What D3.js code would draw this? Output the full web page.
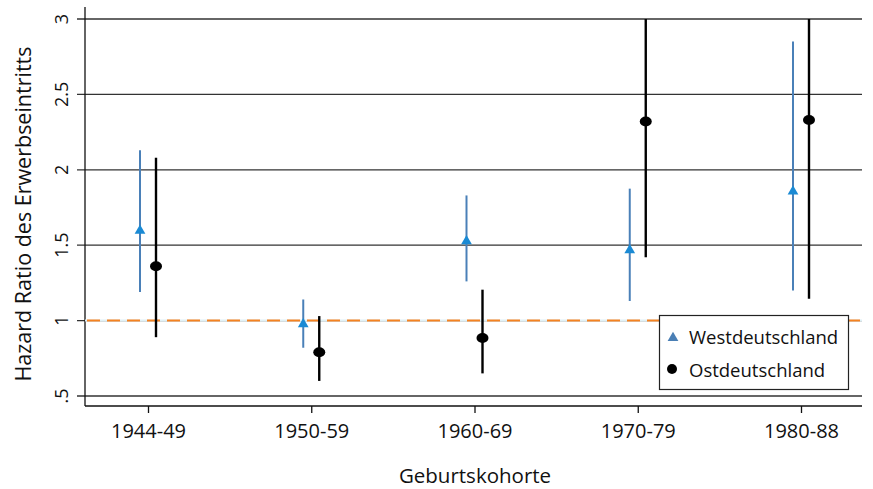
<!DOCTYPE html>
<html>
<head>
<meta charset="utf-8">
<script src="https://cdn.jsdelivr.net/npm/d3@7"></script>
<style>
  body { margin: 0; background: #fff; }
  svg text { font-family: "Open Sans", sans-serif; fill: #111; }
</style>
</head>
<body>
<div id="grafico"></div>
<script>
/*--- datos ---*/
let kohorten = ["1944-49", "1950-59", "1960-69", "1970-79", "1980-88"]
let y_ticks = [0.5, 1, 1.5, 2, 2.5, 3]
let y_labels = [".5", "1", "1.5", "2", "2.5", "3"]

let west_hr   = [1.59, 0.97, 1.52, 1.46, 1.85]
let west_low  = [1.19, 0.82, 1.26, 1.13, 1.20]
let west_high = [2.13, 1.14, 1.83, 1.875, 2.85]

let ost_hr   = [1.36, 0.79, 0.885, 2.32, 2.33]
let ost_low  = [0.89, 0.60, 0.65, 1.42, 1.145]
let ost_high = [2.08, 1.03, 1.205, 3.0, 3.0]

/*--- variables tecnicas ---*/
let width = 873
let height = 489

let svg = d3.select("#grafico").append("svg")
    .attr("width", width).attr("height", height)

let x = d3.scalePoint()
    .domain(kohorten)
    .range([148, 801])

let y = d3.scaleLinear()
    .domain([0.5, 3])
    .range([396, 19])

let xIzq = 85, xDer = 862, yAbajo = 406, yArriba = 7

// lineas de la grilla (con tick a la izquierda)
svg.append("g").selectAll("line")
    .data(y_ticks)
    .enter().append("line")
    .attr("x1", xIzq - 8).attr("x2", xDer)
    .attr("y1", d => y(d)).attr("y2", d => y(d))
    .style("stroke", "#333").style("stroke-width", 1.3)

// etiquetas del eje y, rotadas
svg.append("g").selectAll("text")
    .data(y_ticks)
    .enter().append("text")
    .attr("transform", d => "translate(68," + y(d) + ") rotate(-90)")
    .attr("text-anchor", "middle")
    .style("font-size", "18px")
    .text((d, i) => y_labels[i])

// ejes
svg.append("line")
    .attr("x1", xIzq).attr("x2", xIzq).attr("y1", yArriba).attr("y2", yAbajo)
    .style("stroke", "#111").style("stroke-width", 1.3)
svg.append("line")
    .attr("x1", xIzq).attr("x2", xDer).attr("y1", yAbajo).attr("y2", yAbajo)
    .style("stroke", "#111").style("stroke-width", 1.3)

let ejeX = svg.append("g")
    .attr("transform", "translate(0," + yAbajo + ")")
    .call(d3.axisBottom(x).tickSize(7).tickSizeOuter(0))
ejeX.select(".domain").remove()
ejeX.selectAll("line").style("stroke", "#111").style("stroke-width", 1.3)
ejeX.selectAll("text")
    .attr("y", 32).attr("dy", null)
    .style("font-size", "20px")
    .style("font-family", "'Open Sans', sans-serif")
    .style("fill", "#111")

// linea de referencia en 1
svg.append("line")
    .attr("x1", xIzq).attr("x2", xDer).attr("y1", y(1)).attr("y2", y(1))
    .style("stroke", "#dff0f5").style("stroke-width", 2)
svg.append("line")
    .attr("x1", xIzq + 2).attr("x2", xDer).attr("y1", y(1)).attr("y2", y(1))
    .style("stroke", "#f58220").style("stroke-width", 2)
    .style("stroke-dasharray", "13,7")

// intervalos de confianza
let w = kohorten.map((k, i) => ({k: k, hr: west_hr[i], lo: west_low[i], hi: west_high[i]}))
let o = kohorten.map((k, i) => ({k: k, hr: ost_hr[i], lo: ost_low[i], hi: ost_high[i]}))

svg.append("g").selectAll("line")
    .data(w)
    .enter().append("line")
    .attr("x1", d => x(d.k) - 8).attr("x2", d => x(d.k) - 8)
    .attr("y1", d => y(d.lo)).attr("y2", d => y(d.hi))
    .style("stroke", "#4a80b8").style("stroke-width", 2)

svg.append("g").selectAll("line")
    .data(o)
    .enter().append("line")
    .attr("x1", d => x(d.k) + 8).attr("x2", d => x(d.k) + 8)
    .attr("y1", d => y(d.lo)).attr("y2", d => y(d.hi))
    .style("stroke", "#000").style("stroke-width", 2.4)

// marcadores
let tri = d3.symbol().type(d3.symbolTriangle).size(50)
svg.append("g").selectAll("path")
    .data(w)
    .enter().append("path")
    .attr("d", tri)
    .attr("transform", d => "translate(" + (x(d.k) - 8) + "," + (y(d.hr) - 1) + ")")
    .style("fill", "#1a8ad4")

svg.append("g").selectAll("ellipse")
    .data(o)
    .enter().append("ellipse")
    .attr("cx", d => x(d.k) + 8).attr("cy", d => y(d.hr))
    .attr("rx", 6).attr("ry", 5)
    .style("fill", "#000")

// leyenda
let ley = svg.append("g")
ley.append("rect")
    .attr("x", 659.5).attr("y", 315.5).attr("width", 189).attr("height", 74)
    .style("fill", "#fff").style("stroke", "#222").style("stroke-width", 1.2)
ley.append("path")
    .attr("d", tri)
    .attr("transform", "translate(673,338)")
    .style("fill", "#4a7fb5")
ley.append("circle")
    .attr("cx", 672).attr("cy", 369).attr("r", 5)
    .style("fill", "#000")
ley.append("text").attr("x", 689).attr("y", 344).style("font-size", "18.5px").text("Westdeutschland")
ley.append("text").attr("x", 689).attr("y", 377).style("font-size", "18.5px").text("Ostdeutschland")

// titulos
svg.append("text")
    .attr("x", 475).attr("y", 483)
    .attr("text-anchor", "middle")
    .style("font-size", "20.5px")
    .text("Geburtskohorte")

svg.append("text")
    .attr("transform", "translate(31,214) rotate(-90)")
    .attr("text-anchor", "middle")
    .style("font-size", "21.5px")
    .text("Hazard Ratio des Erwerbseintritts")
</script>
</body>
</html>
